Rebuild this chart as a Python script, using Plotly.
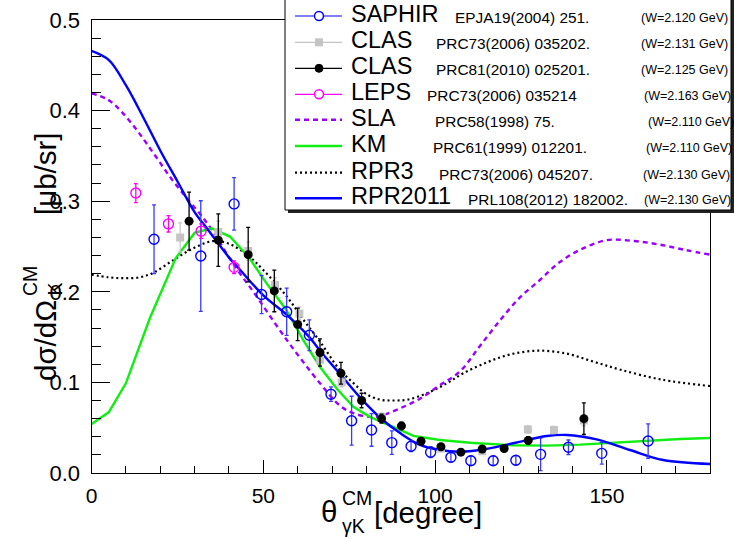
import plotly.graph_objects as go

W, H = 734, 539

# ---------------- data ----------------
saphir_x = [18.2, 31.8, 41.5, 49.5, 56.8, 63.4, 69.7, 75.7, 81.5, 87.4, 93.0, 98.7,
            104.6, 110.4, 116.9, 123.5, 130.7, 138.8, 148.5, 162.0]
saphir_y = [0.258, 0.2395, 0.297, 0.197, 0.178, 0.152, 0.087, 0.0577, 0.0475, 0.0335,
            0.0295, 0.023, 0.0173, 0.0136, 0.0136, 0.014, 0.0206, 0.0284, 0.0217, 0.0353]
saphir_e = [0.038, 0.061, 0.029, 0.021, 0.026, 0.017, 0.008, 0.027, 0.018, 0.013,
            0.006, 0.006, 0.005, 0.005, 0.005, 0.005, 0.018, 0.008, 0.012, 0.019]

clas06_x = [25.8, 36.9, 45.6, 53.4, 60.5, 66.5, 72.8, 84.5, 101.7, 113.7, 127.0, 134.6, 143.3]
clas06_y = [0.260, 0.266, 0.245, 0.2075, 0.176, 0.125, 0.100, 0.062, 0.027, 0.024, 0.048, 0.0475, 0.058]
clas06_e = [0.016, 0.012, 0.010, 0.008, 0.007, 0.006, 0.005, 0.004, 0.003, 0.003, 0.004, 0.004, 0.006]

clas10_x = [28.4, 36.9, 45.6, 53.2, 60.0, 66.5, 72.6, 78.6, 84.4, 90.2, 95.9, 101.7,
            107.5, 113.7, 120.1, 127.1, 143.3]
clas10_y = [0.278, 0.257, 0.241, 0.201, 0.164, 0.133, 0.110, 0.080, 0.060, 0.052, 0.035,
            0.029, 0.023, 0.0265, 0.027, 0.036, 0.060]
clas10_e = [0.032, 0.029, 0.030, 0.023, 0.018, 0.015, 0.012, 0.008, 0.005, 0.004, 0.004,
            0.003, 0.003, 0.003, 0.003, 0.004, 0.0175]

leps_x = [12.9, 22.4, 31.9, 41.5]
leps_y = [0.309, 0.275, 0.267, 0.227]
leps_e = [0.0105, 0.009, 0.008, 0.007]

sla_x = [0, 4.8, 8.7, 13.5, 18.4, 23.2, 28, 32, 36, 40, 44, 47.1, 56.8, 66.5, 72.4, 76.2,
         81, 84, 89.8, 95.6, 101.4, 107.2, 113, 119, 125, 130.5, 136, 142, 150, 158,
         165.5, 173, 180]
sla_y = [0.419, 0.412, 0.399, 0.377, 0.351, 0.325, 0.302, 0.284, 0.263, 0.238, 0.216,
         0.200, 0.147, 0.099, 0.074, 0.066, 0.062, 0.063, 0.0714, 0.082, 0.097, 0.112,
         0.140, 0.169, 0.195, 0.213, 0.232, 0.246, 0.257, 0.256, 0.252, 0.246, 0.241]

km_x = [0, 5, 10, 17, 24.5, 30, 35, 40.3, 46, 51, 56.5, 61.6, 66.5, 71.4, 76.2, 81,
        87.8, 93.7, 101.4, 110.2, 122.7, 132.5, 142.2, 151.9, 161.6, 171.3, 180]
km_y = [0.054, 0.067, 0.099, 0.171, 0.237, 0.265, 0.270, 0.261, 0.237, 0.209, 0.181,
        0.147, 0.117, 0.093, 0.073, 0.062, 0.051, 0.041, 0.0364, 0.0334, 0.0306, 0.0302,
        0.0313, 0.0335, 0.0357, 0.0375, 0.0386]

rpr3_x = [0, 5, 9.3, 14, 18, 23.8, 29.6, 35.4, 40, 45.6, 50, 56.8, 61.5, 66.5, 72, 76,
          80, 84, 88, 92, 97.6, 103.4, 108.2, 115, 122, 130, 138, 146, 154, 166, 180]
rpr3_y = [0.219, 0.216, 0.215, 0.216, 0.221, 0.235, 0.248, 0.256, 0.253, 0.240, 0.224,
          0.195, 0.170, 0.145, 0.115, 0.100, 0.087, 0.081, 0.080, 0.081, 0.088, 0.099,
          0.110, 0.122, 0.131, 0.135, 0.132, 0.123, 0.114, 0.103, 0.096]

rpr11_x = [0, 5, 10, 15, 20, 25, 30, 34, 40, 43.3, 50, 57, 63.4, 66.5, 72.6, 78, 84, 90,
           95.6, 101.4, 107, 113, 122.7, 132.5, 138.3, 147, 156.7, 166.4, 180]
rpr11_y = [0.466, 0.456, 0.428, 0.393, 0.356, 0.322, 0.288, 0.268, 0.238, 0.224, 0.196,
           0.174, 0.150, 0.135, 0.108, 0.084, 0.061, 0.0435, 0.031, 0.0254, 0.0235,
           0.0254, 0.0328, 0.0408, 0.042, 0.0372, 0.0254, 0.0143, 0.0099]

legend_names = ["SAPHIR", "CLAS", "CLAS", "LEPS", "SLA", "KM", "RPR3", "RPR2011"]
legend_refs = ["EPJA19(2004) 251.", "PRC73(2006) 035202.", "PRC81(2010) 025201.",
               "PRC73(2006) 035214", "PRC58(1998) 75.", "PRC61(1999) 012201.",
               "PRC73(2006) 045207.", "PRL108(2012) 182002."]
legend_w = ["(W=2.120 GeV)", "(W=2.131 GeV)", "(W=2.125 GeV)", "(W=2.163 GeV)",
            "(W=2.110 GeV)", "(W=2.110 GeV)", "(W=2.130 GeV)", "(W=2.130 GeV)"]

# ---------------- styles ----------------
FONT = "Liberation Sans, Arial, sans-serif"
BLUE = "#0000ff"
EBLUE = "#3a3aff"
GRAY = "#c4c4c4"
MAG = "#ff00ff"
VIO = "#9900ff"
GRN = "#11ee11"

# plot frame in pixels
X0, X1 = 91.5, 710.0
Y0, Y1 = 20.0, 473.0


def px(x):
    return x / W


def py(y):
    return 1 - y / H


fig = go.Figure()

# model curves
fig.add_trace(go.Scatter(x=rpr3_x, y=rpr3_y, mode="lines", line_shape="spline",
                         line=dict(color="black", width=2.2, dash="2px,3px")))
fig.add_trace(go.Scatter(x=sla_x, y=sla_y, mode="lines", line_shape="spline",
                         line=dict(color=VIO, width=2.4, dash="5px,4px")))
fig.add_trace(go.Scatter(x=km_x, y=km_y, mode="lines",
                         line=dict(color=GRN, width=2.4)))
fig.add_trace(go.Scatter(x=rpr11_x, y=rpr11_y, mode="lines", line_shape="spline",
                         line=dict(color=BLUE, width=2.4)))

# data points
fig.add_trace(go.Scatter(x=clas06_x, y=clas06_y, mode="markers",
                         marker=dict(symbol="square", size=8, color=GRAY),
                         error_y=dict(type="data", array=clas06_e, color=GRAY,
                                      thickness=1.2, width=2)))
fig.add_trace(go.Scatter(x=saphir_x, y=saphir_y, mode="markers",
                         marker=dict(symbol="circle-open", size=10, color=BLUE,
                                     line=dict(width=1.4, color=BLUE)),
                         error_y=dict(type="data", array=saphir_e, color=EBLUE,
                                      thickness=1.3, width=2)))
fig.add_trace(go.Scatter(x=clas10_x, y=clas10_y, mode="markers",
                         marker=dict(symbol="circle", size=9, color="black"),
                         error_y=dict(type="data", array=clas10_e, color="black",
                                      thickness=1.3, width=2)))
fig.add_trace(go.Scatter(x=leps_x, y=leps_y, mode="markers",
                         marker=dict(symbol="circle-open", size=10, color=MAG,
                                     line=dict(width=1.4, color=MAG)),
                         error_y=dict(type="data", array=leps_e, color=MAG,
                                      thickness=1.3, width=2)))

# ---------------- legend (drawn box) ----------------
shapes = []
annotations = []
LX0, LX1, LY0, LY1 = 285, 731, -5, 210
shapes.append(dict(type="rect", xref="paper", yref="paper", layer="above",
                   x0=px(LX0 + 3), x1=px(LX1 + 3), y0=py(LY0), y1=py(LY1 + 3),
                   fillcolor="#222222", line=dict(width=0)))
shapes.append(dict(type="rect", xref="paper", yref="paper", layer="above",
                   x0=px(LX0), x1=px(LX1), y0=py(LY0), y1=py(LY1),
                   fillcolor="white", line=dict(color="black", width=1)))

rows = [16, 42.3, 68.3, 94.3, 119.7, 146, 172.7, 198.3]
ref_x = [454, 435, 435, 426.5, 434, 431.7, 437.5, 466.5]
w_x = [640, 640, 640, 643.3, 646.7, 645, 641.7, 642.7]
line_styles = [
    dict(color=BLUE, width=1.2), dict(color=GRAY, width=1.2), dict(color="black", width=1.2),
    dict(color=MAG, width=1.2), dict(color=VIO, width=2.4, dash="5px,4px"),
    dict(color=GRN, width=2.4), dict(color="black", width=2.2, dash="2px,3px"),
    dict(color=BLUE, width=2.4)]
for i, yy in enumerate(rows):
    shapes.append(dict(type="line", xref="paper", yref="paper", layer="above",
                       x0=px(295), x1=px(342), y0=py(yy), y1=py(yy), line=line_styles[i]))
    annotations.append(dict(xref="paper", yref="paper", x=px(350), y=py(yy - 2),
                            xanchor="left", yanchor="middle", showarrow=False, borderpad=0,
                            text=legend_names[i], font=dict(family=FONT, size=23.5, color="black")))
    annotations.append(dict(xref="paper", yref="paper", x=px(ref_x[i]), y=py(yy + 1.5),
                            xanchor="left", yanchor="middle", showarrow=False, borderpad=0,
                            text=legend_refs[i], font=dict(family=FONT, size=15.4, color="black")))
    annotations.append(dict(xref="paper", yref="paper", x=px(w_x[i]), y=py(yy + 2),
                            xanchor="left", yanchor="middle", showarrow=False, borderpad=0,
                            text=legend_w[i], font=dict(family=FONT, size=12.5, color="black")))

# legend markers
r = 4.5
shapes.append(dict(type="circle", xref="paper", yref="paper", layer="above",
                   x0=px(319 - r), x1=px(319 + r), y0=py(rows[0] - r), y1=py(rows[0] + r),
                   fillcolor="white", line=dict(color=BLUE, width=1.4)))
shapes.append(dict(type="rect", xref="paper", yref="paper", layer="above",
                   x0=px(315), x1=px(323), y0=py(rows[1] - 4), y1=py(rows[1] + 4),
                   fillcolor=GRAY, line=dict(width=0)))
shapes.append(dict(type="circle", xref="paper", yref="paper", layer="above",
                   x0=px(319 - 4), x1=px(319 + 4), y0=py(rows[2] - 4), y1=py(rows[2] + 4),
                   fillcolor="black", line=dict(color="black", width=1)))
shapes.append(dict(type="circle", xref="paper", yref="paper", layer="above",
                   x0=px(319 - r), x1=px(319 + r), y0=py(rows[3] - r), y1=py(rows[3] + r),
                   fillcolor="white", line=dict(color=MAG, width=1.4)))

# ---------------- axis titles ----------------
TF = 29.5
SF = 19.5
TC = "black"
# x title
annotations += [
    dict(xref="paper", yref="paper", x=px(329), y=py(511), text="θ", showarrow=False,
         xanchor="center", yanchor="middle", borderpad=0, font=dict(family=FONT, size=TF, color=TC)),
    dict(xref="paper", yref="paper", x=px(341), y=py(498), text="CM", showarrow=False,
         xanchor="left", yanchor="middle", borderpad=0, font=dict(family=FONT, size=SF, color=TC)),
    dict(xref="paper", yref="paper", x=px(341), y=py(526), text="γK", showarrow=False,
         xanchor="left", yanchor="middle", borderpad=0, font=dict(family=FONT, size=SF, color=TC)),
    dict(xref="paper", yref="paper", x=px(373), y=py(512), text="[degree]", showarrow=False,
         xanchor="left", yanchor="middle", borderpad=0, font=dict(family=FONT, size=TF, color=TC)),
]
# y title (rotated, reads bottom-to-top)
annotations += [
    dict(xref="paper", yref="paper", x=px(45), y=py(341), text="dσ/dΩ", showarrow=False,
         textangle=-90, xanchor="center", yanchor="middle", borderpad=0,
         font=dict(family=FONT, size=TF, color=TC)),
    dict(xref="paper", yref="paper", x=px(30), y=py(297), text="CM", showarrow=False,
         textangle=-90, xanchor="center", yanchor="bottom", borderpad=0,
         font=dict(family=FONT, size=SF, color=TC)),
    dict(xref="paper", yref="paper", x=px(55), y=py(297), text="K", showarrow=False,
         textangle=-90, xanchor="center", yanchor="bottom", borderpad=0,
         font=dict(family=FONT, size=SF, color=TC)),
    dict(xref="paper", yref="paper", x=px(45), y=py(174), text="[μb/sr]", showarrow=False,
         textangle=-90, xanchor="center", yanchor="middle", borderpad=0,
         font=dict(family=FONT, size=TF, color=TC)),
]

fig.update_layout(
    width=W, height=H,
    margin=dict(l=0, r=0, t=0, b=0, autoexpand=False),
    paper_bgcolor="white", plot_bgcolor="white",
    showlegend=False,
    shapes=shapes, annotations=annotations,
    xaxis=dict(domain=[px(X0), px(X1)], range=[0, 180], showgrid=False, zeroline=False,
               automargin=False,
               showline=True, linecolor="black", linewidth=1, mirror=True,
               ticks="inside", ticklen=13, tickwidth=1, tickcolor="black",
               tick0=0, dtick=50, ticklabelstandoff=4,
               tickfont=dict(family=FONT, size=21, color="black"),
               minor=dict(ticks="inside", ticklen=7, dtick=10, tickcolor="black", showgrid=False)),
    yaxis=dict(domain=[py(Y1), py(Y0)], range=[0, 0.5], showgrid=False, zeroline=False,
               automargin=False,
               showline=True, linecolor="black", linewidth=1, mirror=True,
               ticks="inside", ticklen=18, tickwidth=1, tickcolor="black",
               tick0=0, dtick=0.1, tickformat=".1f", ticklabelstandoff=6,
               tickfont=dict(family=FONT, size=22, color="black"),
               minor=dict(ticks="inside", ticklen=9, dtick=0.02, tickcolor="black", showgrid=False)),
)

fig.write_html("out.html")
